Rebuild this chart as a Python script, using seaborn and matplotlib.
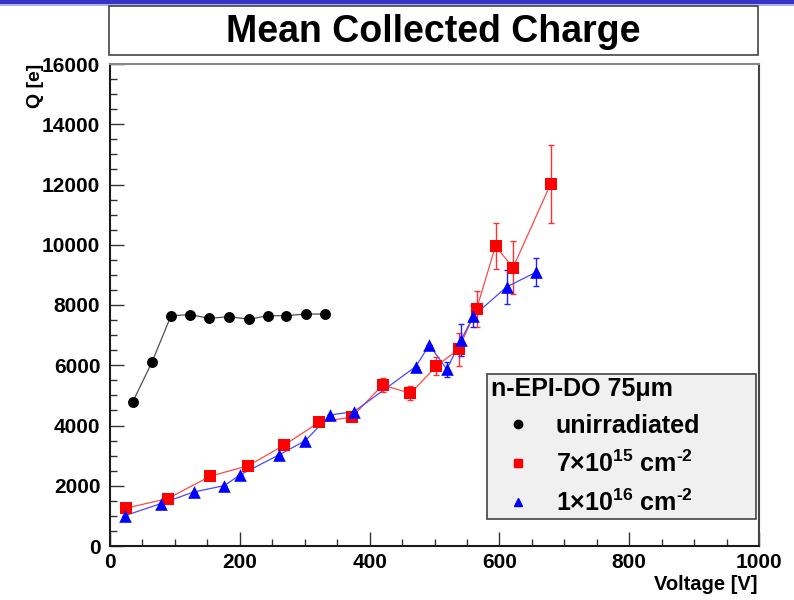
import matplotlib
matplotlib.use("Agg")
import matplotlib.pyplot as plt
from matplotlib.patches import Rectangle
from matplotlib.lines import Line2D
from matplotlib.ticker import MultipleLocator
import seaborn as sns
import pandas as pd

# ---------------- data ----------------
v_unirr = [35, 65, 94, 124, 153, 184, 214, 243, 271, 302, 331]
q_unirr = [4780, 6120, 7645, 7680, 7557, 7613, 7525, 7645, 7645, 7700, 7700]

v_7e15 = [25, 89, 154, 213, 268, 322, 373, 420, 463, 503, 537, 565, 594, 621, 679]
q_7e15 = [1260, 1572, 2313, 2666, 3342, 4105, 4282, 5344, 5068, 5975, 6529, 7878, 9958, 9239, 12017]
e_7e15 = [0, 0, 0, 0, 0, 0, 0, 220, 230, 300, 540, 600, 750, 890, 1300]

v_1e16 = [23, 78, 129, 176, 200, 260, 301, 339, 376, 471, 492, 519, 541, 560, 611, 656]
q_1e16 = [1007, 1405, 1793, 2003, 2357, 3020, 3497, 4348, 4460, 5953, 6672, 5865, 6838, 7635, 8597, 9085]
e_1e16 = [0, 0, 0, 0, 0, 0, 0, 0, 0, 0, 0, 240, 530, 380, 560, 470]

labels = ["unirradiated", r"7×10$^{15}$ cm$^{\text{-2}}$", r"1×10$^{16}$ cm$^{\text{-2}}$"]
legend_title = "n-EPI-DO 75μm"
title = "Mean Collected Charge"
xlabel = "Voltage [V]"
ylabel = "Q [e]"

# ---------------- style ----------------
sns.set_style("ticks")
plt.rcParams["font.family"] = ["Liberation Sans", "DejaVu Sans"]
plt.rcParams["font.weight"] = "bold"
plt.rcParams["text.color"] = "black"
plt.rcParams["mathtext.fontset"] = "custom"
plt.rcParams["mathtext.rm"] = "Liberation Sans:bold"
plt.rcParams["mathtext.it"] = "Liberation Sans:bold"
plt.rcParams["mathtext.bf"] = "Liberation Sans:bold"
plt.rcParams["mathtext.default"] = "rm"

W, H = 794, 600
fig = plt.figure(figsize=(W / 100, H / 100), dpi=100)

def fx(px):
    return px / W

def fy(py):
    return 1 - py / H

ax = fig.add_axes([fx(110), fy(546), fx(759) - fx(110), fy(64) - fy(546)])

df_u = pd.DataFrame({"V": v_unirr, "Q": q_unirr})
df_r = pd.DataFrame({"V": v_7e15, "Q": q_7e15, "E": e_7e15})
df_b = pd.DataFrame({"V": v_1e16, "Q": q_1e16, "E": e_1e16})

# error bars
ax.errorbar(df_r["V"], df_r["Q"], yerr=df_r["E"], fmt="none", ecolor="#ff3030",
            elinewidth=1, capsize=2.2, capthick=1, zorder=2)
ax.errorbar(df_b["V"], df_b["Q"], yerr=df_b["E"], fmt="none", ecolor="#2020ff",
            elinewidth=1, capsize=2.2, capthick=1, zorder=2)

# connecting lines
sns.lineplot(data=df_u, x="V", y="Q", ax=ax, sort=False, color="#505050", lw=0.9, zorder=3)
sns.lineplot(data=df_r, x="V", y="Q", ax=ax, sort=False, color="#ff4848", lw=0.9, zorder=3)
sns.lineplot(data=df_b, x="V", y="Q", ax=ax, sort=False, color="#4848ff", lw=0.9, zorder=3)

# markers
sns.scatterplot(data=df_u, x="V", y="Q", ax=ax, marker="o", s=62, color="black",
                edgecolor="black", linewidth=0, zorder=4)
sns.scatterplot(data=df_r, x="V", y="Q", ax=ax, marker="s", s=70, color="red",
                edgecolor="red", linewidth=0, zorder=4)
sns.scatterplot(data=df_b, x="V", y="Q", ax=ax, marker="^", s=82, color="blue",
                edgecolor="blue", linewidth=0, zorder=5)

ax.set_xlim(0, 1000)
ax.set_ylim(0, 16000)
ax.xaxis.set_major_locator(MultipleLocator(200))
ax.xaxis.set_minor_locator(MultipleLocator(50))
ax.yaxis.set_major_locator(MultipleLocator(2000))
ax.yaxis.set_minor_locator(MultipleLocator(500))
ax.tick_params(axis="both", which="both", direction="in", top=False, right=False,
               colors="#333333", labelcolor="black")
ax.tick_params(axis="both", which="major", length=10, width=1, labelsize=15)
ax.tick_params(axis="both", which="minor", length=5, width=1)
ax.tick_params(axis="y", which="major", pad=7)
ax.tick_params(axis="x", which="major", pad=5)
for lab in ax.get_xticklabels() + ax.get_yticklabels():
    lab.set_fontweight("bold")

for side in ["left", "bottom"]:
    ax.spines[side].set_color("#1a1a1a")
    ax.spines[side].set_linewidth(1.5)
ax.spines["top"].set_color("#888888")
ax.spines["top"].set_linewidth(1.5)
ax.spines["right"].set_color("#444444")
ax.spines["right"].set_linewidth(1.5)

ax.set_xlabel("")
ax.set_ylabel("")
fig.text(fx(757), fy(585), xlabel, ha="right", va="center", fontsize=14.5, fontweight="bold")
fig.text(fx(35), fy(64), ylabel, ha="center", va="top", rotation=90, fontsize=14,
         fontweight="bold")

# legend
handles = [
    Line2D([], [], linestyle="none", marker="o", color="black", markersize=6),
    Line2D([], [], linestyle="none", marker="s", color="red", markersize=6),
    Line2D([], [], linestyle="none", marker="^", color="blue", markersize=6),
]
leg = ax.legend(handles, labels, title=legend_title, loc="lower left",
                bbox_to_anchor=(0.581, 0.056, 0.4145, 0.29), mode="expand",
                borderaxespad=0, frameon=True,
                fancybox=False, facecolor="#f0f0f0", edgecolor="#444444", framealpha=1,
                prop={"size": 18, "weight": "bold"},
                title_fontproperties={"size": 18, "weight": "bold"},
                alignment="left", handlelength=2.22, handletextpad=0.38,
                labelspacing=0.5, borderpad=0.14)
leg.get_frame().set_linewidth(1.2)
leg.set_zorder(10)

# title box and top band
fig.add_artist(Rectangle((0, fy(4)), 1, fy(0) - fy(4), transform=fig.transFigure,
                         facecolor="#3434c8", edgecolor="none"))
fig.add_artist(Rectangle((0, fy(5.5)), 1, fy(4) - fy(5.5), transform=fig.transFigure,
                         facecolor="#b0b0e6", edgecolor="none"))
fig.add_artist(Rectangle((fx(109), fy(55)), fx(758) - fx(109), fy(6) - fy(55),
                         transform=fig.transFigure, facecolor="white",
                         edgecolor="#444444", linewidth=1.2))
fig.text(fx(433.5), fy(32), title, ha="center", va="center", fontsize=27,
         fontweight="bold", color="black")

fig.savefig("out.png", dpi=100)
